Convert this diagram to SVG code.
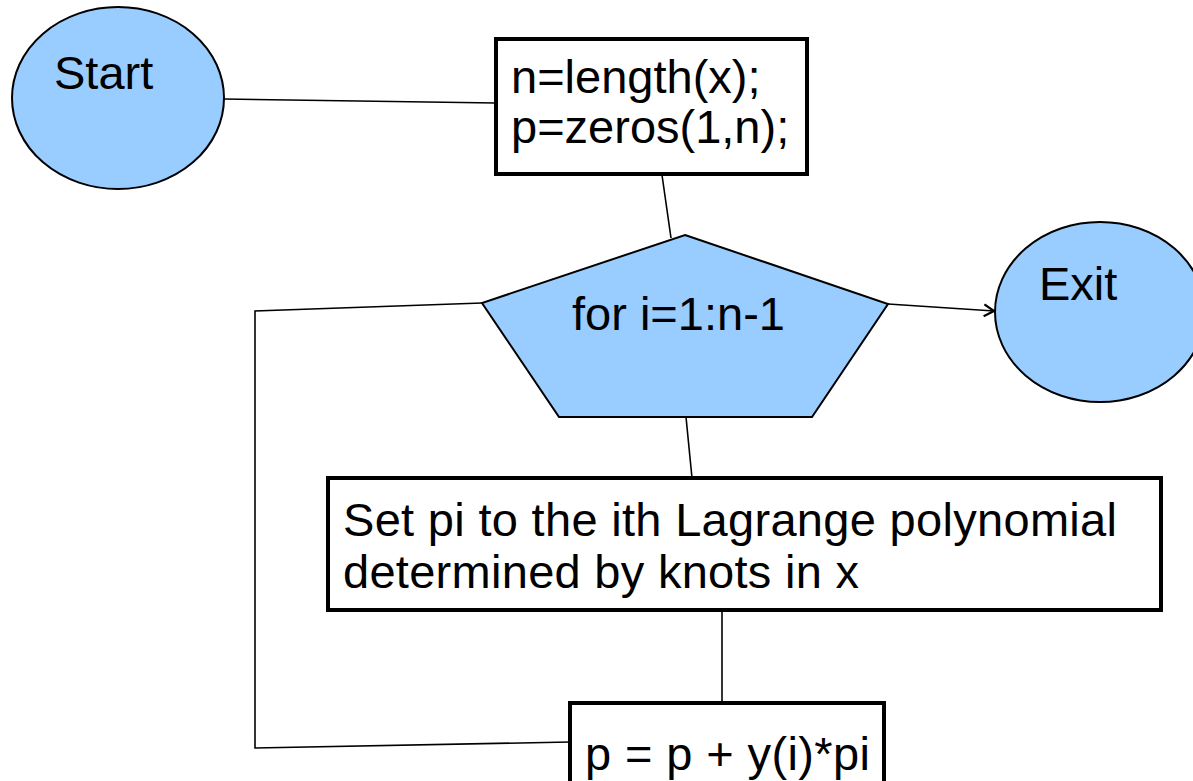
<svg xmlns="http://www.w3.org/2000/svg" width="1193" height="781" viewBox="0 0 1193 781">
<defs>
<style>
.term{fill:#99ccff;stroke:#000;stroke-width:2}
.box{fill:#fff;stroke:#000;stroke-width:4}
.loop{fill:#99ccff;stroke:#000;stroke-width:2}
.conn{fill:none;stroke:#000;stroke-width:1.6}
text{font-family:"Liberation Sans",Arial,sans-serif;font-size:47px;fill:#000}
</style>
<marker id="arr" markerWidth="14" markerHeight="14" refX="12" refY="7" orient="auto" markerUnits="userSpaceOnUse">
<path d="M2,1 L12,7 L2,13" fill="none" stroke="#000" stroke-width="2.2"/>
</marker>
</defs>
<rect width="1193" height="781" fill="#fff"/>
<g id="connectors">
<line class="conn" x1="224" y1="99" x2="496" y2="103"/>
<line class="conn" x1="662" y1="175" x2="671" y2="238"/>
<polyline class="conn" points="482,303 255,311 255,748 570,742"/>
<line class="conn" x1="888" y1="304" x2="994" y2="311" marker-end="url(#arr)"/>
<line class="conn" x1="686" y1="417" x2="692" y2="478"/>
<line class="conn" x1="722" y1="610" x2="722" y2="703"/>
</g>
<g id="start">
<ellipse class="term" cx="118" cy="98" rx="106" ry="91"/>
<text x="54" y="89">Start</text>
</g>
<g id="init">
<rect class="box" x="496" y="39" width="311" height="135"/>
<text x="511" y="93">n=length(x);</text>
<text x="511" y="143">p=zeros(1,n);</text>
</g>
<g id="loop">
<polygon class="loop" points="685,235 888,304 812,417 559,417 482,303"/>
<text x="572" y="330">for i=1:n-1</text>
</g>
<g id="exit">
<ellipse class="term" cx="1100" cy="312" rx="105" ry="90"/>
<text x="1039" y="300">Exit</text>
</g>
<g id="lagrange">
<rect class="box" x="328" y="478" width="833" height="132"/>
<text x="343" y="536" textLength="774" lengthAdjust="spacing">Set pi to the ith Lagrange polynomial</text>
<text x="343" y="588" textLength="516" lengthAdjust="spacing">determined by knots in x</text>
</g>
<g id="update">
<rect class="box" x="570" y="703" width="314" height="85"/>
<text x="585" y="770" textLength="285" lengthAdjust="spacing">p = p + y(i)*pi</text>
</g>
</svg>
